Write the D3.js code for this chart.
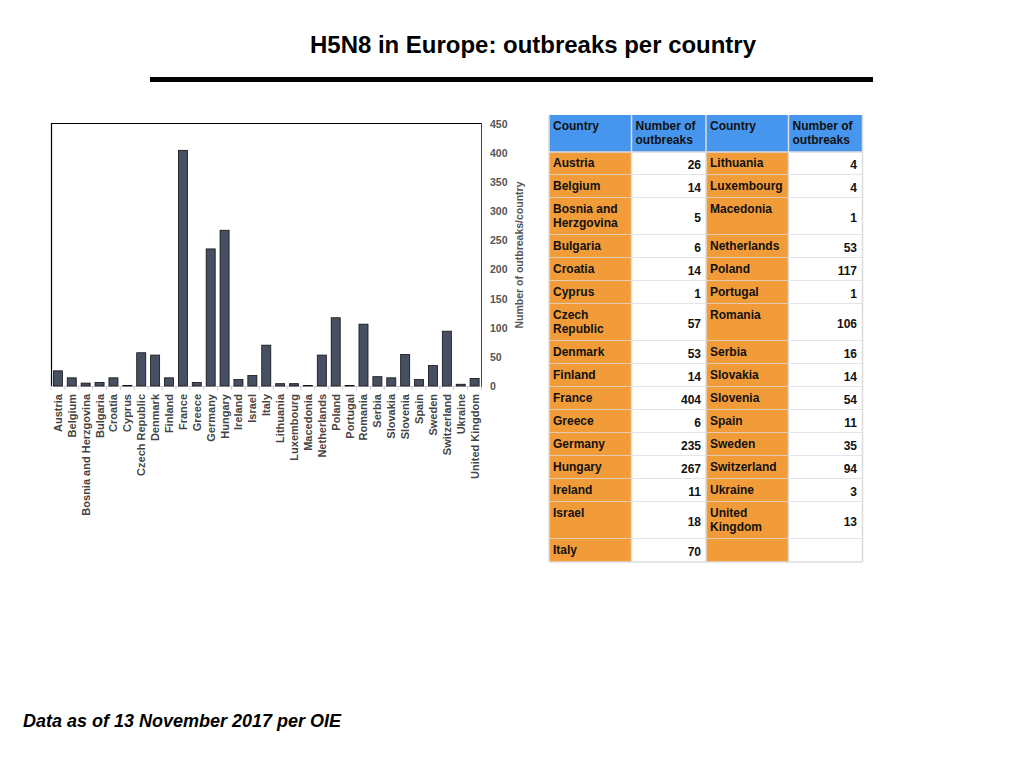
<!DOCTYPE html>
<html><head><meta charset="utf-8">
<script src="https://cdn.jsdelivr.net/npm/d3@7/dist/d3.min.js"></script>
<style>
html,body{margin:0;padding:0;background:#fff;}
svg{display:block;}
</style></head>
<body>
<svg id="c" width="1024" height="768"></svg>
<script>
const title = "H5N8 in Europe: outbreaks per country";
const footnote = "Data as of 13 November 2017 per OIE";
const yAxisLabel = "Number of outbreaks/country";
const countries = ["Austria","Belgium","Bosnia and Herzgovina","Bulgaria","Croatia","Cyprus","Czech Republic","Denmark","Finland","France","Greece","Germany","Hungary","Ireland","Israel","Italy","Lithuania","Luxembourg","Macedonia","Netherlands","Poland","Portugal","Romania","Serbia","Slovakia","Slovenia","Spain","Sweden","Switzerland","Ukraine","United Kingdom"];
const outbreaks = [26,14,5,6,14,1,57,53,14,404,6,235,267,11,18,70,4,4,1,53,117,1,106,16,14,54,11,35,94,3,13];
const yTicks = [0,50,100,150,200,250,300,350,400,450];
const tableHeaders = ["Country","Number of outbreaks","Country","Number of outbreaks"];

const svg = d3.select("#c");
const FONT = "'Liberation Sans', Arial, Helvetica, sans-serif";

// Title
svg.append("text").attr("x",533).attr("y",53).attr("text-anchor","middle")
  .attr("font-family",FONT).attr("font-weight","bold").attr("font-size",23)
  .attr("textLength",446).attr("lengthAdjust","spacingAndGlyphs")
  .text(title);
svg.append("rect").attr("x",150).attr("y",77).attr("width",723).attr("height",5).attr("fill","#000");

// Chart
const x = d3.scaleBand().domain(countries).range([51,481.5]).paddingInner(0.35).paddingOuter(0.17);
const y = d3.scaleLinear().domain([0,450]).range([386,123.5]);

const g = svg.append("g");
g.append("line").attr("x1",51).attr("x2",482).attr("y1",386.5).attr("y2",386.5).attr("stroke","#cfcfcf");
g.selectAll("line.xt").data(d3.range(countries.length+1)).join("line")
  .attr("x1",i=>51+i*(430.5/countries.length)).attr("x2",i=>51+i*(430.5/countries.length))
  .attr("y1",386.5).attr("y2",390).attr("stroke","#cfcfcf");

g.selectAll("rect.bar").data(countries).join("rect")
  .attr("x",d=>x(d)).attr("width",x.bandwidth())
  .attr("y",(d,i)=>y(outbreaks[i])).attr("height",(d,i)=>y(0)-y(outbreaks[i]))
  .attr("fill","#465062").attr("stroke","#111").attr("stroke-width",0.8);

// frame
g.append("line").attr("x1",51).attr("x2",482).attr("y1",123.5).attr("y2",123.5).attr("stroke","#000").attr("stroke-width",1.2);
g.append("line").attr("x1",51.5).attr("x2",51.5).attr("y1",123).attr("y2",386).attr("stroke","#000").attr("stroke-width",1.2);
g.append("line").attr("x1",481.5).attr("x2",481.5).attr("y1",123).attr("y2",386.5).attr("stroke","#444").attr("stroke-width",1);

// y tick labels
g.selectAll("text.yt").data(yTicks).join("text")
  .attr("x",490).attr("y",d=>y(d)+4)
  .attr("font-family",FONT).attr("font-weight","bold").attr("font-size",10.5).attr("fill","#555")
  .text(d=>d);
g.append("text").attr("transform","translate(523,255) rotate(-90)").attr("text-anchor","middle")
  .attr("font-family",FONT).attr("font-weight","bold").attr("font-size",10.5).attr("fill","#555")
  .text(yAxisLabel);

// x labels
g.selectAll("text.xl").data(countries).join("text")
  .attr("transform",d=>`translate(${x(d)+x.bandwidth()/2+4},394) rotate(-90)`)
  .attr("text-anchor","end")
  .attr("font-family",FONT).attr("font-weight","bold").attr("font-size",11).attr("fill","#444")
  .text(d=>d);

// Table
const colX = [549,631.5,706,788.5,862.5];
const half = Math.ceil(countries.length/2);
const rows = d3.range(half).map(i=>({
  l: countries[i], lv: outbreaks[i],
  r: i+half<countries.length ? countries[i+half] : null,
  rv: i+half<countries.length ? outbreaks[i+half] : null
}));
const tg = svg.append("g").attr("font-family",FONT).attr("font-weight","bold").attr("font-size",12);

function wrap(str, maxW){
  const words = str.split(" ");
  const t = tg.append("text").attr("visibility","hidden");
  const lines=[]; let cur="";
  words.forEach(w=>{
    const test = cur?cur+" "+w:w;
    t.text(test);
    if(t.node().getComputedTextLength()>maxW && cur){lines.push(cur);cur=w;} else cur=test;
  });
  if(cur) lines.push(cur);
  t.remove();
  return lines;
}
const hdrTop = 115, hdrH = 37, lineH = 14;
const blue="#4796ee", orange="#f19c39", grid="#dcdcdc";
tableHeaders.forEach((h,j)=>{
  tg.append("rect").attr("x",colX[j]).attr("y",hdrTop).attr("width",colX[j+1]-colX[j]).attr("height",hdrH).attr("fill",blue);
  wrap(h,colX[j+1]-colX[j]-10).forEach((ln,k)=>{
    tg.append("text").attr("x",colX[j]+4).attr("y",hdrTop+15+k*lineH).attr("fill","#111").text(ln);
  });
});
let rowTop = hdrTop+hdrH;
rows.forEach(r=>{
  const ll = wrap(r.l, colX[1]-colX[0]-12);
  const rl = r.r ? wrap(r.r, colX[3]-colX[2]-12) : [];
  const n = Math.max(ll.length, rl.length);
  const h = n>1 ? 37 : 23;
  tg.append("rect").attr("x",colX[0]).attr("y",rowTop).attr("width",colX[1]-colX[0]).attr("height",h).attr("fill",orange);
  tg.append("rect").attr("x",colX[1]).attr("y",rowTop).attr("width",colX[2]-colX[1]).attr("height",h).attr("fill","#fff");
  tg.append("rect").attr("x",colX[2]).attr("y",rowTop).attr("width",colX[3]-colX[2]).attr("height",h).attr("fill",orange);
  tg.append("rect").attr("x",colX[3]).attr("y",rowTop).attr("width",colX[4]-colX[3]).attr("height",h).attr("fill","#fff");
  ll.forEach((ln,k)=>tg.append("text").attr("x",colX[0]+4).attr("y",rowTop+15+k*lineH).attr("fill","#111").text(ln));
  rl.forEach((ln,k)=>tg.append("text").attr("x",colX[2]+4).attr("y",rowTop+15+k*lineH).attr("fill","#111").text(ln));
  tg.append("text").attr("x",colX[2]-5).attr("y",rowTop+h/2+5).attr("text-anchor","end").attr("fill","#111").text(r.lv);
  if(r.rv!==null) tg.append("text").attr("x",colX[4]-5.5).attr("y",rowTop+h/2+5).attr("text-anchor","end").attr("fill","#111").text(r.rv);
  tg.append("line").attr("x1",colX[0]).attr("x2",colX[4]).attr("y1",rowTop+h).attr("y2",rowTop+h).attr("stroke",grid).attr("stroke-width",1.5);
  rowTop += h;
});
colX.forEach(cx=>{
  tg.append("line").attr("x1",cx).attr("x2",cx).attr("y1",hdrTop).attr("y2",rowTop).attr("stroke",grid).attr("stroke-width",1.5);
});
tg.append("line").attr("x1",colX[0]).attr("x2",colX[4]).attr("y1",hdrTop+hdrH).attr("y2",hdrTop+hdrH).attr("stroke",grid).attr("stroke-width",1.5);

// footnote
svg.append("text").attr("x",23).attr("y",726.5)
  .attr("font-family",FONT).attr("font-weight","bold").attr("font-style","italic").attr("font-size",18.5)
  .attr("textLength",318).attr("lengthAdjust","spacingAndGlyphs")
  .text(footnote);
</script>
</body></html>
